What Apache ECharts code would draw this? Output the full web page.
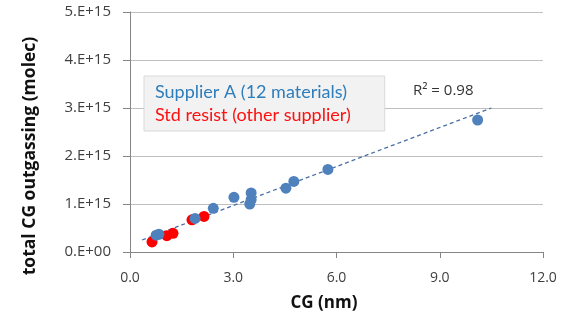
<!DOCTYPE html>
<html>
<head>
<meta charset="utf-8">
<script src="https://cdn.jsdelivr.net/npm/echarts@6/dist/echarts.min.js"></script>
<style>html,body{margin:0;padding:0;background:#fff}#c{width:570px;height:322px}</style>
</head>
<body>
<div id="c"></div>
<script>
// CG (nm) and total CG outgassing (molec)
var supplierAX = [10.1, 5.75, 4.76, 4.53, 3.52, 3.52, 3.48, 3.02, 2.42, 1.89, 0.84, 0.76];
var supplierAY = [2.75e15, 1.72e15, 1.47e15, 1.33e15, 1.23e15, 1.09e15, 1.0e15, 1.14e15, 0.91e15, 0.70e15, 0.37e15, 0.35e15];
var stdX = [0.64, 1.07, 1.25, 1.80, 2.15];
var stdY = [0.21e15, 0.34e15, 0.39e15, 0.67e15, 0.74e15];
var trendX = [0.35, 10.5];
var trendY = [0.25e15, 3.0e15];
var xTicks = [0, 3, 6, 9, 12];
var yTicks = [0, 1e15, 2e15, 3e15, 4e15, 5e15];
var nameA = 'Supplier A (12 materials)';
var nameB = 'Std resist (other supplier)';
var r2Label = 'R² = 0.98';
var xTitle = 'CG (nm)';
var yTitle = 'total CG outgassing (molec)';

function zip(a, b) { return a.map(function (v, i) { return [v, b[i]]; }); }

var chart = echarts.init(document.getElementById('c'), null, {renderer: 'canvas'});
var font = '"Open Sans", "Noto Sans", sans-serif';
chart.setOption({
  animation: false,
  grid: {left: 130, right: 27, top: 12, bottom: 70},
  xAxis: {
    type: 'value', min: xTicks[0], max: xTicks[xTicks.length - 1], interval: 3,
    axisLine: {lineStyle: {color: '#868686'}},
    axisTick: {lineStyle: {color: '#868686'}, length: 6},
    axisLabel: {fontFamily: font, fontSize: 14, color: '#404040', margin: 19,
      formatter: function (v) { return v.toFixed(1); }},
    splitLine: {show: false}
  },
  yAxis: {
    type: 'value', min: yTicks[0], max: yTicks[yTicks.length - 1], interval: 1e15,
    axisLine: {show: true, lineStyle: {color: '#868686'}},
    axisTick: {show: true, lineStyle: {color: '#868686'}, length: 7},
    axisLabel: {fontFamily: font, fontSize: 15, color: '#404040', margin: 19,
      formatter: function (v) { return v === 0 ? '0.E+00' : (v / 1e15) + '.E+15'; }},
    splitLine: {lineStyle: {color: '#bfbfbf'}}
  },
  legend: {
    left: 144, top: 76, orient: 'vertical',
    backgroundColor: '#f2f2f2', borderColor: '#d9d9d9', borderWidth: 1,
    padding: [7, 34, 7, 10], itemGap: 5,
    itemWidth: 0, itemHeight: 0,
    selectedMode: false,
    textStyle: {fontFamily: 'Lato, sans-serif', fontSize: 18, padding: [0, 0, 0, -4]},
    data: [
      {name: nameA, icon: 'circle', textStyle: {color: '#2e7dbb'}},
      {name: nameB, icon: 'circle', textStyle: {color: '#ff1010'}}
    ]
  },
  graphic: [
    {type: 'text', left: 413, top: 83,
      style: {text: r2Label, fontFamily: font, fontSize: 15, fill: '#333'}},
    {type: 'text', x: 324, y: 303,
      style: {text: xTitle, fontFamily: font, fontWeight: 'bold', fontSize: 17, fill: '#111',
        align: 'center', verticalAlign: 'middle'}},
    {type: 'text', x: 30, y: 156, rotation: Math.PI / 2,
      style: {text: yTitle, fontFamily: font, fontWeight: 'bold', fontSize: 17.5, fill: '#111',
        align: 'center', verticalAlign: 'middle'}}
  ],
  series: [
    {
      name: 'trend', type: 'line', data: zip(trendX, trendY), symbol: 'none',
      lineStyle: {color: '#4a6fa5', width: 1.3, type: [4, 3]}, z: 1, silent: true
    },
    {
      name: nameB, type: 'scatter', data: zip(stdX, stdY), symbolSize: 11,
      itemStyle: {color: '#ff0000', opacity: 1}, z: 2
    },
    {
      name: nameA, type: 'scatter', data: zip(supplierAX, supplierAY), symbolSize: 11,
      itemStyle: {color: '#4f81bd', opacity: 1}, z: 3
    }
  ]
});
</script>
</body>
</html>
